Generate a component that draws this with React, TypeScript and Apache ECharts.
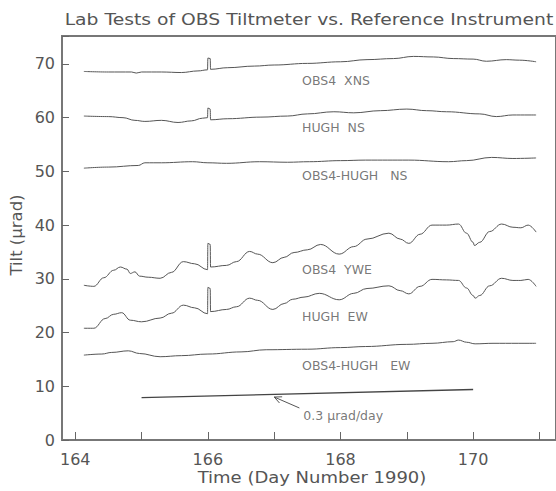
import React, { useEffect, useRef } from "react";
import * as echarts from "echarts";

const titleText = "Lab Tests of OBS Tiltmeter vs. Reference Instrument";
const xAxisTitle = "Time (Day Number 1990)";
const yAxisTitle = "Tilt (μrad)";

const xTicks = [164, 165, 166, 167, 168, 169, 170, 171];
const xLabels = [164, 166, 168, 170];

const obs4Xns: number[][] = [
  [164.13, 68.6], [164.5, 68.5], [164.85, 68.5], [164.92, 68.3], [165.0, 68.5], [165.3, 68.5],
  [165.6, 68.4], [165.85, 68.7], [165.995, 68.9], [166.0, 71.1], [166.035, 71.0], [166.04, 69.0],
  [166.3, 69.3], [166.7, 69.6], [167.0, 69.8], [167.5, 70.1], [168.0, 70.4], [168.4, 70.8],
  [168.8, 71.0], [169.1, 71.4], [169.4, 71.3], [169.7, 71.0], [170.0, 70.9], [170.2, 70.5],
  [170.5, 70.8], [170.7, 70.7], [170.95, 70.4],
];

const hughNs: number[][] = [
  [164.13, 60.3], [164.5, 60.2], [164.72, 60.0], [164.9, 59.5], [165.05, 59.3], [165.3, 59.5],
  [165.55, 59.1], [165.75, 59.4], [165.92, 59.9], [165.995, 60.0], [166.0, 61.8], [166.035, 61.6],
  [166.04, 59.6], [166.3, 59.8], [166.8, 60.1], [167.2, 60.3], [167.5, 60.7], [167.9, 61.1],
  [168.2, 60.9], [168.6, 61.3], [169.0, 61.6], [169.3, 61.3], [169.6, 61.1], [170.1, 60.7],
  [170.35, 60.2], [170.6, 60.5], [170.95, 60.5],
];

const diffNs: number[][] = [
  [164.13, 50.6], [164.5, 50.8], [164.95, 51.1], [165.05, 51.6], [165.3, 51.6], [165.77, 51.8],
  [166.0, 51.6], [166.28, 51.5], [166.78, 51.8], [167.2, 51.7], [167.53, 51.8], [168.0, 52.0],
  [168.38, 52.1], [169.03, 52.1], [169.63, 51.8], [169.9, 52.0], [170.28, 52.6], [170.6, 52.4],
  [170.95, 52.5],
];

const obs4Ywe: number[][] = [
  [164.13, 28.8], [164.28, 28.6], [164.43, 30.2], [164.58, 31.6], [164.68, 32.2], [164.78, 31.8],
  [164.83, 31.0], [164.9, 31.3], [164.97, 30.5], [165.1, 30.3], [165.28, 30.1], [165.45, 31.2],
  [165.63, 33.2], [165.8, 32.8], [165.995, 31.7], [166.0, 36.6], [166.035, 36.4], [166.04, 32.2],
  [166.28, 32.5], [166.43, 33.2], [166.63, 35.1], [166.75, 34.6], [166.98, 33.0], [167.15, 34.0],
  [167.3, 34.9], [167.5, 35.4], [167.7, 36.4], [167.98, 34.6], [168.2, 36.0], [168.4, 37.4],
  [168.73, 38.5], [168.9, 37.4], [169.03, 36.6], [169.2, 38.3], [169.38, 40.0], [169.6, 40.0],
  [169.78, 40.2], [169.9, 38.5], [170.0, 36.8], [170.02, 36.2], [170.1, 36.8], [170.25, 38.8],
  [170.43, 40.2], [170.6, 39.6], [170.72, 39.5], [170.83, 40.0], [170.95, 38.7],
];

const hughEw: number[][] = [
  [164.13, 20.8], [164.28, 20.8], [164.45, 22.6], [164.58, 23.4], [164.7, 23.7], [164.83, 22.3],
  [165.0, 22.0], [165.28, 22.7], [165.45, 23.6], [165.63, 25.1], [165.8, 24.6], [165.995, 23.5],
  [166.0, 28.4], [166.035, 28.2], [166.04, 23.9], [166.28, 24.3], [166.43, 24.8], [166.63, 26.4],
  [166.75, 26.0], [166.98, 24.3], [167.15, 25.4], [167.28, 26.2], [167.45, 26.6], [167.68, 27.3],
  [167.98, 26.1], [168.2, 27.3], [168.4, 28.2], [168.73, 28.7], [168.9, 27.8], [169.03, 27.2],
  [169.2, 28.6], [169.38, 29.9], [169.6, 29.8], [169.78, 29.7], [169.9, 28.3], [170.0, 26.9],
  [170.03, 26.4], [170.1, 26.9], [170.25, 28.7], [170.43, 30.1], [170.6, 29.7], [170.72, 29.7],
  [170.83, 29.9], [170.95, 28.6],
];

const diffEw: number[][] = [
  [164.13, 15.8], [164.4, 16.0], [164.55, 16.3], [164.8, 16.6], [164.97, 16.1], [165.28, 15.5],
  [165.6, 15.7], [166.0, 16.0], [166.5, 16.4], [166.88, 16.8], [167.5, 16.9], [168.0, 17.2],
  [168.38, 17.4], [169.0, 17.8], [169.38, 18.0], [169.7, 18.3], [169.78, 18.6], [169.9, 18.2],
  [170.03, 17.9], [170.3, 18.0], [170.68, 18.0], [170.95, 18.0],
];

const refLine: number[][] = [[165.0, 7.9], [170.0, 9.4]];
const arrowShaft: number[][] = [[167.38, 5.96], [167.0, 8.0]];
const arrowHead: number[][] = [[167.08, 6.89], [167.0, 8.0], [167.12, 8.04]];

const labelNames = ["OBS4  XNS", "HUGH  NS", "OBS4-HUGH   NS", "OBS4  YWE", "HUGH  EW", "OBS4-HUGH   EW", "0.3 μrad/day"];
const labelX = [167.42, 167.42, 167.42, 167.42, 167.42, 167.42, 167.44];
const labelY = [67.0, 58.1, 49.2, 31.8, 23.0, 13.8, 4.5];

const FONT = "DejaVu Sans";
const TXT = "#555";
const LINE = "#555";

export default function App() {
  const ref = useRef<HTMLDivElement>(null);
  useEffect(() => {
    document.body.style.margin = "0";
    const chart = echarts.init(ref.current!, null, { renderer: "svg" });
    const curve = (name: string, data: number[][]) => ({
      name,
      type: "line",
      data,
      showSymbol: false,
      smooth: 0.4,
      smoothMonotone: "x",
      lineStyle: { color: LINE, width: 1 },
      silent: true,
    });
    chart.setOption({
      animation: false,
      grid: { left: 62, right: -2, top: 36, bottom: 51, show: true, borderColor: "#777", borderWidth: 2 },
      graphic: [
        { type: "text", x: 309, y: 20, scaleX: 1.25, style: { text: titleText, fill: TXT, font: `15px "${FONT}"`, textAlign: "center", textVerticalAlign: "middle" } },
        { type: "text", x: 312, y: 478, scaleX: 1.2, style: { text: xAxisTitle, fill: TXT, font: `15px "${FONT}"`, textAlign: "center", textVerticalAlign: "middle" } },
        { type: "text", x: 17, y: 235, rotation: Math.PI / 2, scaleX: 1.1, style: { text: yAxisTitle, fill: TXT, font: `15px "${FONT}"`, textAlign: "center", textVerticalAlign: "middle" } },
      ],
      xAxis: {
        type: "value",
        min: 163.8,
        max: 171.25,
        axisLine: { show: true, lineStyle: { color: "#777", width: 2 } },
        axisTick: { show: true, inside: true, length: 8, customValues: xTicks, lineStyle: { color: "#666", width: 1 } },
        axisLabel: { customValues: xLabels, margin: 11, color: TXT, fontFamily: FONT, fontSize: 16 },
        splitLine: { show: false },
      },
      yAxis: {
        type: "value",
        min: 0,
        max: 75.2,
        interval: 10,
        axisLine: { show: true, lineStyle: { color: "#777", width: 2 } },
        axisTick: { show: true, inside: true, length: 7, lineStyle: { color: "#666", width: 1 } },
        axisLabel: { margin: 7, color: TXT, fontFamily: FONT, fontSize: 16, formatter: (v: number) => (v > 75 ? "" : String(v)) },
        splitLine: { show: false },
      },
      series: [
        curve("OBS4 XNS", obs4Xns),
        curve("HUGH NS", hughNs),
        curve("OBS4-HUGH NS", diffNs),
        curve("OBS4 YWE", obs4Ywe),
        curve("HUGH EW", hughEw),
        curve("OBS4-HUGH EW", diffEw),
        { type: "line", data: refLine, showSymbol: false, lineStyle: { color: "#444", width: 1.3 }, silent: true },
        { type: "line", data: arrowShaft, showSymbol: false, lineStyle: { color: "#555", width: 1 }, silent: true },
        { type: "line", data: arrowHead, showSymbol: false, lineStyle: { color: "#555", width: 1 }, silent: true },
        {
          type: "scatter",
          symbolSize: 0,
          silent: true,
          data: labelNames.map((n, i) => ({ name: n, value: [labelX[i], labelY[i]] })),
          label: { show: true, position: "right", distance: 0, formatter: "{b}", color: TXT, fontFamily: FONT, fontSize: 12.5 },
        },
      ],
    });
    return () => chart.dispose();
  }, []);
  return <div ref={ref} style={{ width: 556, height: 491 }} />;
}
